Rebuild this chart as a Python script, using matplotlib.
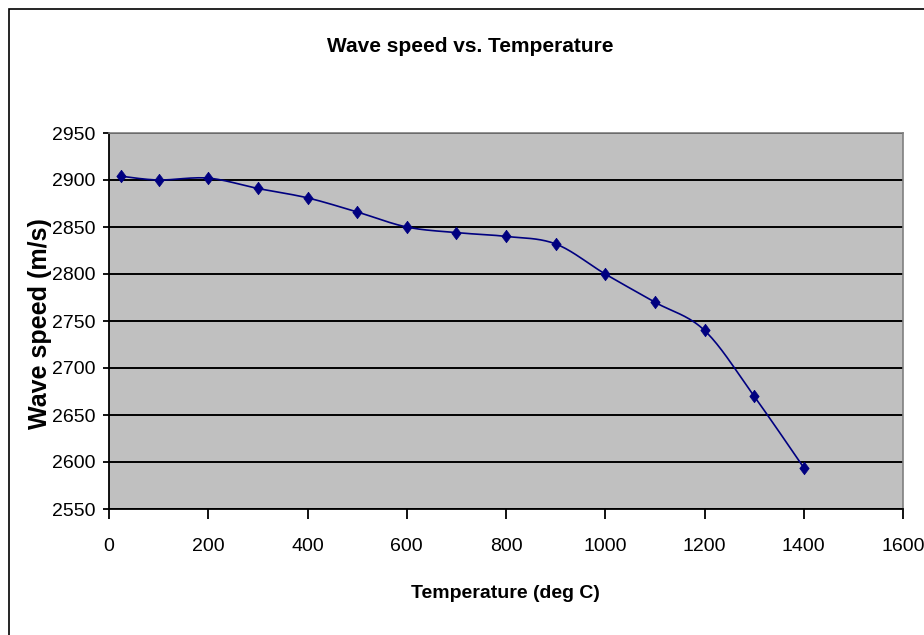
import numpy as np
import matplotlib
matplotlib.use("Agg")
import matplotlib.pyplot as plt
from matplotlib.patches import Rectangle

# Data
temperature = [25, 100, 200, 300, 400, 500, 600, 700, 800, 900, 1000, 1100, 1200, 1300, 1400]
wave_speed = [2904, 2900, 2902, 2891, 2881, 2866, 2850, 2844, 2840, 2832, 2800, 2770, 2740, 2670, 2594]
x_ticks = [0, 200, 400, 600, 800, 1000, 1200, 1400, 1600]
y_ticks = [2550, 2600, 2650, 2700, 2750, 2800, 2850, 2900, 2950]
title = "Wave speed vs. Temperature"
xlabel = "Temperature (deg C)"
ylabel = "Wave speed (m/s)"

plt.rcParams["font.family"] = ["Liberation Sans", "DejaVu Sans"]


def smooth(x, y, n=20):
    # Catmull-Rom style smoothing like spreadsheet smoothed lines
    x = np.asarray(x, float)
    y = np.asarray(y, float)
    px = np.concatenate([[x[0]], x, [x[-1]]])
    py = np.concatenate([[y[0]], y, [y[-1]]])
    xs, ys = [], []
    t = np.linspace(0, 1, n, endpoint=False)
    for i in range(1, len(px) - 2):
        p0x, p1x, p2x, p3x = px[i - 1], px[i], px[i + 1], px[i + 2]
        p0y, p1y, p2y, p3y = py[i - 1], py[i], py[i + 1], py[i + 2]
        c1x = p1x + (p2x - p0x) / 6
        c1y = p1y + (p2y - p0y) / 6
        c2x = p2x - (p3x - p1x) / 6
        c2y = p2y - (p3y - p1y) / 6
        b0 = (1 - t) ** 3
        b1 = 3 * (1 - t) ** 2 * t
        b2 = 3 * (1 - t) * t ** 2
        b3 = t ** 3
        xs.extend(b0 * p1x + b1 * c1x + b2 * c2x + b3 * p2x)
        ys.extend(b0 * p1y + b1 * c1y + b2 * c2y + b3 * p2y)
    xs.append(x[-1])
    ys.append(y[-1])
    return np.array(xs), np.array(ys)


W, H = 924, 635
fig = plt.figure(figsize=(W / 100, H / 100), dpi=100)
fig.patch.set_facecolor("white")

# chart border (top and left visible)
fig.patches.append(Rectangle((9 / W, -0.1), 1.2, 1 - 9 / H + 0.1, transform=fig.transFigure,
                             fill=False, edgecolor="black", linewidth=1.2))

L, R, T, B = 109, 903, 133, 509
ax = fig.add_axes([L / W, 1 - B / H, (R - L) / W, (B - T) / H])
ax.set_facecolor("#C0C0C0")

diamond = [(0, 1), (0.75, 0), (0, -1), (-0.75, 0), (0, 1)]

sx, sy = smooth(temperature, wave_speed)
ax.plot(sx, sy, color="#000080", linewidth=1.2, zorder=3)
ax.plot(temperature, wave_speed, linestyle="none", marker=diamond, markersize=9,
        color="#000080", markeredgewidth=0.5, zorder=4)

ax.set_xlim(0, 1600)
ax.set_ylim(2550, 2950)
ax.set_xticks(x_ticks)
ax.set_yticks(y_ticks)
ax.set_xticklabels([str(v) for v in x_ticks])
ax.set_yticklabels([str(v) for v in y_ticks])
ax.yaxis.grid(True, color="black", linewidth=1.4)
ax.set_axisbelow(True)

for s in ["top", "right"]:
    ax.spines[s].set_visible(True)
    ax.spines[s].set_color("#808080")
    ax.spines[s].set_linewidth(1.2)
ax.spines["left"].set_color("black")
ax.spines["bottom"].set_color("black")
ax.spines["left"].set_linewidth(1.3)
ax.spines["bottom"].set_linewidth(1.3)

ax.tick_params(axis="both", direction="out", width=1.3, labelsize=14, colors="black")
ax.tick_params(axis="x", length=7, pad=14)
ax.tick_params(axis="y", length=4.5, pad=5)

fig.text(470 / W, 1 - 47 / H, title, ha="center", va="center", fontsize=15, fontweight="bold")
fig.text(505 / W, 1 - 593 / H, xlabel, ha="center", va="center", fontsize=14, fontweight="bold")
fig.text(40 / W, 1 - 324 / H, ylabel, ha="center", va="center", fontsize=18, fontweight="bold",
         rotation=90)

fig.savefig("out.png", dpi=100)
